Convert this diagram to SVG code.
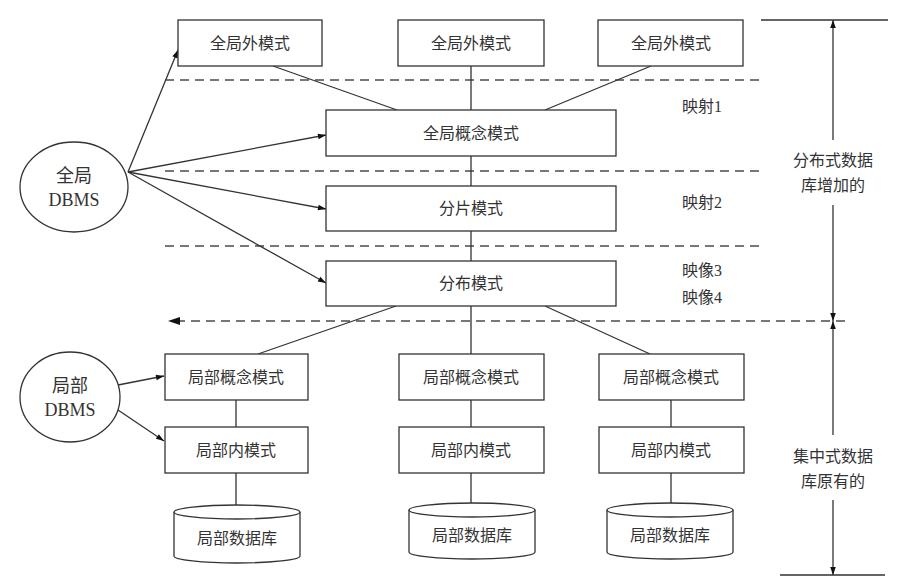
<svg xmlns="http://www.w3.org/2000/svg" width="898" height="578" viewBox="0 0 898 578">
<style>
.b{fill:#fff;stroke:#333;stroke-width:1.3}
.t{font-family:"Liberation Serif","Noto Sans CJK SC",serif;font-size:16px;fill:#333;text-anchor:middle}
.e{font-size:18px}
.l{stroke:#333;stroke-width:1.3;fill:none}
.d{stroke:#777;stroke-width:1.8;stroke-dasharray:9,6;fill:none}
</style>
<defs>
<marker id="a" viewBox="0 0 10 10" refX="10" refY="5" markerWidth="10" markerHeight="8" orient="auto" markerUnits="userSpaceOnUse"><path d="M0,1.5L10,5L0,8.5z" fill="#111"/></marker>
</defs>
<rect width="898" height="578" fill="#fff"/>
<g id="connectors">
<path class="d" d="M165,80H762M165,171H762M165,246H762"/>
<path class="d" d="M176,321H848" />
<path d="M168,321L180,317L180,325z" fill="#111"/>
<path class="l" d="M273,66L397,110M471,66V110M651,66L545,110M471,156V186M471,231V261M396,306L258,354M471,306V354M545,306L650,354"/>
<path class="l" d="M236,400V427M236,473V505M471,400V427M471,473V503M671,400V427M671,473V503"/>
<g class="l" marker-end="url(#a)">
<path d="M128,172L178,50"/><path d="M128,172L326,135"/><path d="M128,172L326,209"/><path d="M128,172L326,283"/>
<path d="M118,385L164,376"/><path d="M118,410L164,441"/>
<path d="M833,140V20"/><path d="M833,205V321"/><path d="M833,435V321"/><path d="M833,500V575"/>
</g>
<path class="l" d="M761,20H888M780,575H885"/>
</g>
<g id="gdbms"><ellipse class="b" cx="74" cy="187" rx="54" ry="45"/><text class="t e" x="74" y="182">全局</text><text class="t e" x="74" y="206">DBMS</text></g>
<g id="ldbms"><ellipse class="b" cx="70" cy="397" rx="50" ry="45"/><text class="t e" x="70" y="392">局部</text><text class="t e" x="70" y="416">DBMS</text></g>
<g id="ext1"><rect class="b" x="178" y="20" width="144" height="46"/><text class="t" x="250" y="49">全局外模式</text></g>
<g id="ext2"><rect class="b" x="398" y="20" width="146" height="46"/><text class="t" x="471" y="49">全局外模式</text></g>
<g id="ext3"><rect class="b" x="598" y="20" width="145" height="46"/><text class="t" x="671" y="49">全局外模式</text></g>
<g id="concept"><rect class="b" x="326" y="110" width="290" height="46"/><text class="t" x="471" y="139">全局概念模式</text></g>
<g id="frag"><rect class="b" x="326" y="186" width="290" height="45"/><text class="t" x="471" y="214">分片模式</text></g>
<g id="dist"><rect class="b" x="326" y="261" width="290" height="45"/><text class="t" x="471" y="289">分布模式</text></g>
<g id="lc1"><rect class="b" x="165" y="354" width="143" height="46"/><text class="t" x="236" y="383">局部概念模式</text></g>
<g id="lc2"><rect class="b" x="399" y="354" width="145" height="46"/><text class="t" x="471" y="383">局部概念模式</text></g>
<g id="lc3"><rect class="b" x="599" y="354" width="145" height="46"/><text class="t" x="671" y="383">局部概念模式</text></g>
<g id="li1"><rect class="b" x="165" y="427" width="143" height="46"/><text class="t" x="236" y="456">局部内模式</text></g>
<g id="li2"><rect class="b" x="399" y="427" width="145" height="46"/><text class="t" x="471" y="456">局部内模式</text></g>
<g id="li3"><rect class="b" x="599" y="427" width="145" height="46"/><text class="t" x="671" y="456">局部内模式</text></g>
<g id="db1"><path class="b" d="M174,512V556A63,7 0 0 0 300,556V512"/><ellipse class="b" cx="237" cy="512" rx="63" ry="7"/><text class="t" x="237" y="544">局部数据库</text></g>
<g id="db2"><path class="b" d="M409,510V552A63,7 0 0 0 535,552V510"/><ellipse class="b" cx="472" cy="510" rx="63" ry="7"/><text class="t" x="472" y="541">局部数据库</text></g>
<g id="db3"><path class="b" d="M607,510V552A63,7 0 0 0 733,552V510"/><ellipse class="b" cx="670" cy="510" rx="63" ry="7"/><text class="t" x="670" y="541">局部数据库</text></g>
<g id="labels">
<text class="t" x="702" y="112">映射1</text><text class="t" x="702" y="208">映射2</text>
<text class="t" x="702" y="276">映像3</text><text class="t" x="702" y="303">映像4</text>
<text class="t" x="833" y="166">分布式数据</text><text class="t" x="833" y="191">库增加的</text>
<text class="t" x="833" y="462">集中式数据</text><text class="t" x="833" y="487">库原有的</text>
</g>
</svg>
